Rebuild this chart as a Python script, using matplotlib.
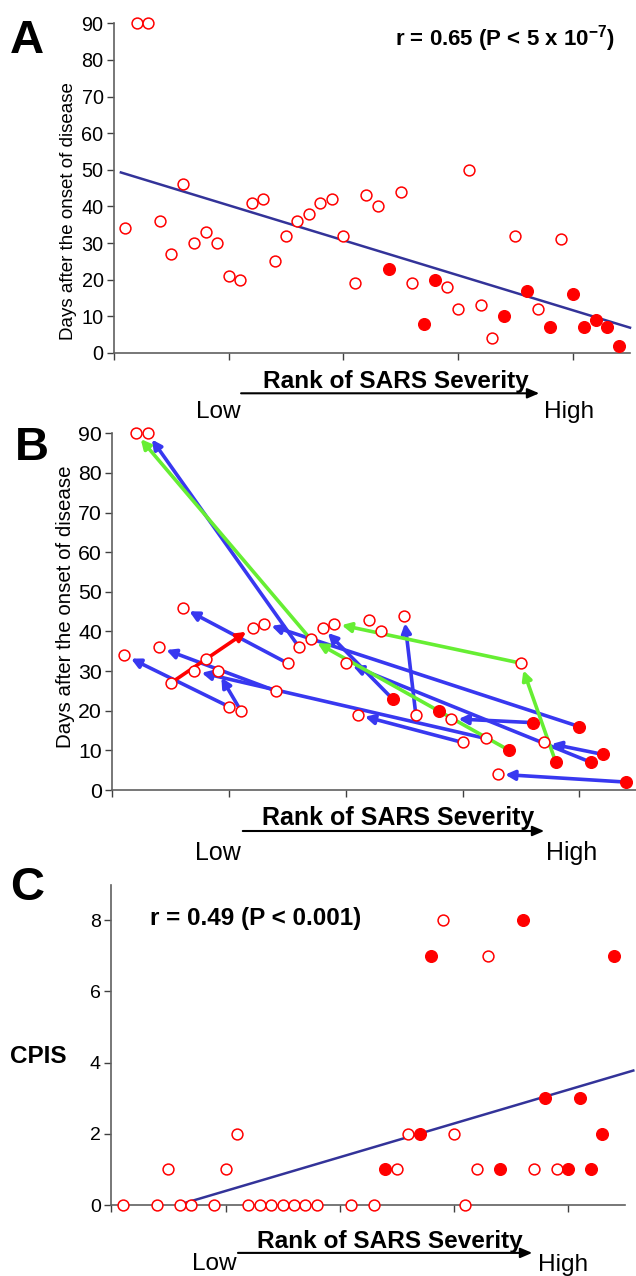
import matplotlib
matplotlib.use('Agg')
import matplotlib.pyplot as plt
import numpy as np
from matplotlib.patches import FancyArrowPatch

plt.rcParams['font.family'] = ['Liberation Sans', 'DejaVu Sans']
plt.rcParams['mathtext.fontset'] = 'custom'
plt.rcParams['mathtext.rm'] = 'Liberation Sans'
plt.rcParams['mathtext.bf'] = 'Liberation Sans:bold'

W, H = 636, 1276

# ---------------- data ----------------
# Panels A/B: rank of SARS severity vs days after onset
rank = list(range(1, 45))
days = [34, 90, 90, 36, 27, 46, 30, 33, 30, 21, 20, 41, 42, 25, 32, 36, 38, 41,
        42, 32, 19, 43, 40, 23, 44, 19, 8, 20, 18, 12, 50, 13, 4, 10, 32, 17,
        12, 7, 31, 16, 7, 9, 7, 2]
severe_ranks = [24, 27, 28, 34, 36, 38, 40, 41, 42, 43, 44]   # filled symbols
b_missing = [27, 31, 39, 43]                                  # not shown in B

# Panel B arrows (from rank -> to rank)
arrows_blue = [(10, 1), (15, 6), (14, 4), (32, 7), (11, 9), (40, 13), (16, 3),
               (24, 18), (26, 25), (41, 20), (30, 21), (36, 29), (42, 37), (44, 33)]
arrows_green = [(17, 2), (34, 17), (35, 19), (38, 35)]
arrows_red = [(5, 12)]

# Panel C: rank vs CPIS
c_rank = [1, 4, 5, 6, 7, 9, 10, 11, 12, 13, 14, 15, 16, 17, 18, 21, 23, 24, 25,
          26, 27, 28, 29, 30, 31, 32, 33, 34, 36, 37, 38, 39, 40, 41, 42, 43, 44]
c_cpis = [0, 0, 1, 0, 0, 0, 1, 2, 0, 0, 0, 0, 0, 0, 0, 0, 0, 1, 1,
          2, 2, 7, 8, 2, 0, 1, 7, 1, 8, 1, 3, 1, 1, 3, 1, 2, 7]

y_ticks_ab = [0, 10, 20, 30, 40, 50, 60, 70, 80, 90]
y_ticks_c = [0, 2, 4, 6, 8]
x_ticks = [0, 10, 20, 30, 40]

fig = plt.figure(figsize=(W / 100, H / 100), dpi=100)


def fx(x):
    return x / W


def fy(y):
    return 1 - y / H


def make_ax(left, right, top, bottom):
    ax = fig.add_axes([fx(left), fy(bottom), (right - left) / W, (bottom - top) / H])
    for s in ['top', 'right']:
        ax.spines[s].set_visible(False)
    for s in ['left', 'bottom']:
        ax.spines[s].set_color('#606060')
        ax.spines[s].set_linewidth(1.2)
    ax.tick_params(direction='out', length=5, width=1, color='#404040', pad=2.5)
    ax.set_xticks(x_ticks)
    ax.set_xticklabels([])
    return ax


def scatter(ax, xs, ys, filled_set):
    xo = [x for x in xs if x not in filled_set]
    yo = [y for x, y in zip(xs, ys) if x not in filled_set]
    xf = [x for x in xs if x in filled_set]
    yf = [y for x, y in zip(xs, ys) if x in filled_set]
    ax.plot(xo, yo, 'o', mfc='white', mec='red', ms=7.8, mew=1.1,
            clip_on=False, zorder=4, linestyle='none')
    ax.plot(xf, yf, 'o', mfc='red', mec='red', ms=8.4, mew=1.0,
            clip_on=False, zorder=4, linestyle='none')


def rank_axis_label(text_base, arrow_y, ax0, ax1, text_cx, low_cx, high_cx, low_base, size):
    fig.text(fx(text_cx), fy(text_base), 'Rank of SARS Severity', ha='center',
             va='baseline', fontsize=size, fontweight='bold')
    arr = FancyArrowPatch((fx(ax0), fy(arrow_y)), (fx(ax1), fy(arrow_y)),
                          transform=fig.transFigure,
                          arrowstyle='-|>,head_length=0.7,head_width=0.3',
                          mutation_scale=10, lw=1.5, color='black')
    fig.add_artist(arr)
    fig.text(fx(low_cx), fy(low_base), 'Low', ha='center', va='baseline', fontsize=size)
    fig.text(fx(high_cx), fy(low_base), 'High', ha='center', va='baseline', fontsize=size)


line_col = '#333399'

# ---------------- Panel A ----------------
axA = make_ax(114, 630, 23.3, 353)
axA.set_xlim(0, 45)
axA.set_ylim(0, 90)
axA.set_yticks(y_ticks_ab)
axA.tick_params(axis='y', labelsize=14.3)
sl, ic = np.polyfit(rank, days, 1)
xl = np.array([0.6, 45.0])
axA.plot(xl, sl * xl + ic, color=line_col, lw=1.8, zorder=3, clip_on=False)
scatter(axA, rank, days, severe_ranks)
fig.text(fx(10), fy(53), 'A', fontsize=34, fontweight='bold', ha='left', va='baseline')
fig.text(fx(68.5), fy(211), 'Days after the onset of disease', rotation=90,
         ha='center', va='center', fontsize=13.5)
fig.text(fx(615), fy(46), r'r = 0.65 (P < 5 x 10$^{\mathbf{-7}}$)', ha='right',
         va='baseline', fontsize=16, fontweight='bold')
rank_axis_label(388.3, 393.3, 238.3, 542, 395.5, 218.3, 569, 418.3, 17.6)

# ---------------- Panel B ----------------
axB = make_ax(112.5, 637.5, 433.3, 790)
axB.set_xlim(0, 45)
axB.set_ylim(0, 90)
axB.set_yticks(y_ticks_ab)
axB.tick_params(axis='y', labelsize=15.3)
b_rank = [r for r in rank if r not in b_missing]
b_days = [d for r, d in zip(rank, days) if r not in b_missing]
lookup = dict(zip(rank, days))
for arrs, col in [(arrows_blue, '#3838f0'), (arrows_green, '#66ee33'), (arrows_red, '#ff0000')]:
    for s, t in arrs:
        axB.annotate('', xy=(t, lookup[t]), xytext=(s, lookup[s]),
                     arrowprops=dict(arrowstyle='-|>,head_length=0.55,head_width=0.28',
                                     color=col, lw=2.6, shrinkA=0, shrinkB=5.5,
                                     mutation_scale=10),
                     annotation_clip=False, zorder=2)
scatter(axB, b_rank, b_days, severe_ranks)
fig.text(fx(15), fy(460), 'B', fontsize=34, fontweight='bold', ha='left', va='baseline')
fig.text(fx(65.8), fy(606.7), 'Days after the onset of disease', rotation=90,
         ha='center', va='center', fontsize=14.8)
rank_axis_label(825.5, 831, 240, 547, 398, 218, 572, 860, 18)

# ---------------- Panel C ----------------
axC = make_ax(111.3, 625.3, 884.6, 1205)
axC.set_xlim(0, 45)
axC.set_ylim(0, 9)
axC.set_yticks(y_ticks_c)
axC.tick_params(axis='y', labelsize=14)
slc, icc = np.polyfit(c_rank, c_cpis, 1)
x0 = -icc / slc
xl = np.array([x0, 45.7])
axC.plot(xl, slc * xl + icc, color=line_col, lw=1.8, zorder=3, clip_on=False)
scatter(axC, c_rank, c_cpis, severe_ranks)
fig.text(fx(10), fy(900.5), 'C', fontsize=34, fontweight='bold', ha='left', va='baseline')
fig.text(fx(10), fy(1063.3), 'CPIS', fontsize=17.5, fontweight='bold', ha='left', va='baseline')
fig.text(fx(150), fy(925), 'r = 0.49 (P < 0.001)', ha='left', va='baseline',
         fontsize=17.5, fontweight='bold')
rank_axis_label(1247.7, 1252.9, 235.2, 535, 389.6, 214.7, 562.9, 1270.5, 17.6)

fig.savefig('out.png', dpi=100)
